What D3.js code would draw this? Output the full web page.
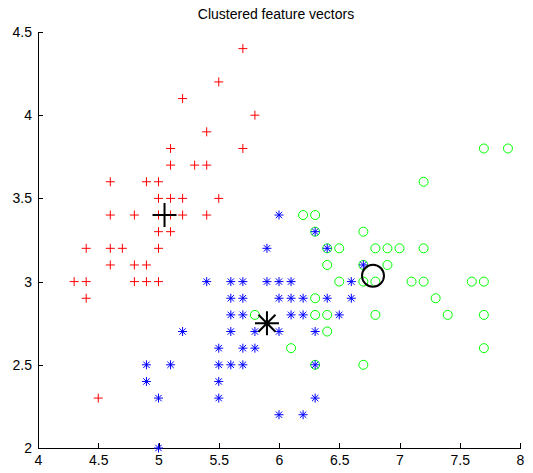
<!DOCTYPE html>
<html>
<head>
<meta charset="utf-8">
<script src="https://cdn.jsdelivr.net/npm/d3@7"></script>
<style>
  html, body { margin: 0; padding: 0; background: #fff; }
  svg { display: block; }
  text { font-family: "Liberation Sans", Arial, Helvetica, sans-serif; fill: #000; }
</style>
</head>
<body>
<svg id="chart" width="533" height="473"></svg>
<script>
// Sepal length / sepal width pairs, grouped by cluster.
const cluster1 = [
  [5.1,3.5],[4.9,3.0],[4.7,3.2],[4.6,3.1],[5.0,3.6],[5.4,3.9],[4.6,3.4],[5.0,3.4],
  [4.4,2.9],[4.9,3.1],[5.4,3.7],[4.8,3.4],[4.8,3.0],[4.3,3.0],[5.8,4.0],[5.7,4.4],
  [5.7,3.8],[5.1,3.8],[5.4,3.4],[5.1,3.7],[4.6,3.6],[5.1,3.3],[5.0,3.0],[5.2,3.5],
  [5.2,3.4],[4.8,3.1],[5.2,4.1],[5.5,4.2],[5.0,3.2],[5.5,3.5],[4.9,3.6],[4.4,3.0],
  [5.1,3.4],[5.0,3.5],[4.5,2.3],[4.4,3.2],[4.6,3.2],[5.3,3.7],[5.0,3.3]
];
const cluster2 = [
  [5.4,3.0],[5.6,3.0],[5.7,3.0],[5.9,3.0],[6.0,3.0],[6.1,3.0],[6.6,3.0],
  [5.6,2.9],[5.7,2.9],[6.0,2.9],[6.1,2.9],[6.2,2.9],[6.4,2.9],[6.6,2.9],
  [5.6,2.8],[5.7,2.8],[6.1,2.8],[6.2,2.8],[6.5,2.8],
  [5.2,2.7],[5.6,2.7],[5.8,2.7],[6.0,2.7],[6.3,2.7],
  [5.5,2.6],[5.7,2.6],[5.8,2.6],
  [4.9,2.5],[5.1,2.5],[5.5,2.5],[5.6,2.5],[5.7,2.5],[6.3,2.5],
  [4.9,2.4],[5.5,2.4],
  [5.0,2.3],[5.5,2.3],[6.3,2.3],
  [6.0,2.2],[6.2,2.2],
  [5.0,2.0],
  [5.9,3.2],[6.0,3.4],[6.3,3.3],[6.4,3.2],[6.7,3.1]
];
const cluster3 = [
  [5.8,2.8],[6.1,2.6],[6.3,2.9],[6.3,2.8],[6.4,2.8],[6.8,2.8],[6.4,2.7],[6.3,2.5],
  [6.7,2.5],[6.2,3.4],[6.3,3.4],[6.3,3.3],[6.7,3.3],[6.4,3.2],[6.5,3.2],[6.8,3.2],
  [6.9,3.2],[7.0,3.2],[7.2,3.2],[6.4,3.1],[6.7,3.1],[6.9,3.1],[6.5,3.0],[6.7,3.0],
  [6.8,3.0],[7.1,3.0],[7.2,3.0],[7.6,3.0],[7.7,3.0],[7.3,2.9],[7.4,2.8],[7.7,2.8],
  [7.7,2.6],[7.7,3.8],[7.9,3.8],[7.2,3.6]
];
// Cluster centres in the same two coordinates.
const centroid1 = [5.05, 3.40];
const centroid2 = [5.90, 2.75];
const centroid3 = [6.78, 3.035];

const xTicks = [4, 4.5, 5, 5.5, 6, 6.5, 7, 7.5, 8];
const yTicks = [2, 2.5, 3, 3.5, 4, 4.5];
const title = "Clustered feature vectors";

const svg = d3.select("#chart");
const plotLeft = 38, plotRight = 520, plotTop = 32, plotBottom = 448;

const x = d3.scaleLinear().domain([4, 8]).range([plotLeft, plotRight]);
const y = d3.scaleLinear().domain([2, 4.5]).range([plotBottom, plotTop]);

// Axes: left and bottom only, ticks pointing into the plot.
const axisFont = "14px";
const gx = svg.append("g")
  .attr("transform", `translate(0,${plotBottom})`)
  .call(d3.axisBottom(x).tickValues(xTicks).tickFormat(d3.format(""))
    .tickSizeInner(-5).tickSizeOuter(0).tickPadding(7));
const gy = svg.append("g")
  .attr("transform", `translate(${plotLeft},0)`)
  .call(d3.axisLeft(y).tickValues(yTicks).tickFormat(d3.format(""))
    .tickSizeInner(-5).tickSizeOuter(0).tickPadding(6));
[gx, gy].forEach(g => {
  g.selectAll("path.domain").attr("stroke", "#000").attr("stroke-width", 1).attr("shape-rendering", "crispEdges");
  g.selectAll(".tick line").attr("stroke", "#000").attr("stroke-width", 1).attr("shape-rendering", "crispEdges");
  g.selectAll(".tick text").attr("font-size", axisFont).attr("fill", "#000")
    .attr("font-family", "'Liberation Sans', Arial, sans-serif");
});

svg.append("text")
  .attr("x", 276).attr("y", 19)
  .attr("text-anchor", "middle")
  .attr("font-size", "14px")
  .text(title);

// Marker path builders.
function plusPath(h) {
  return `M${-h},0H${h}M0,${-h}V${h}`;
}
function starPath(h, d) {
  return `M${-h},0H${h}M0,${-h}V${h}M${-d},${-d}L${d},${d}M${-d},${d}L${d},${-d}`;
}

const plot = svg.append("g");

plot.selectAll("path.c1").data(cluster1).join("path")
  .attr("class", "c1")
  .attr("transform", d => `translate(${x(d[0])},${y(d[1])})`)
  .attr("d", plusPath(4.5))
  .attr("fill", "none").attr("stroke", "#ff0000").attr("stroke-width", 1);

plot.selectAll("circle.c3").data(cluster3).join("circle")
  .attr("class", "c3")
  .attr("cx", d => x(d[0])).attr("cy", d => y(d[1]))
  .attr("r", 4.5)
  .attr("fill", "none").attr("stroke", "#00ff00").attr("stroke-width", 1);

plot.selectAll("path.c2").data(cluster2).join("path")
  .attr("class", "c2")
  .attr("transform", d => `translate(${x(d[0])},${y(d[1])})`)
  .attr("d", starPath(4.5, 3.2))
  .attr("fill", "none").attr("stroke", "#0000ff").attr("stroke-width", 1);

// Cluster centres in black, larger markers.
plot.append("path")
  .attr("transform", `translate(${x(centroid1[0])},${y(centroid1[1])})`)
  .attr("d", plusPath(12))
  .attr("fill", "none").attr("stroke", "#000").attr("stroke-width", 2);

plot.append("path")
  .attr("transform", `translate(${x(centroid2[0])},${y(centroid2[1])})`)
  .attr("d", starPath(12, 8.5))
  .attr("fill", "none").attr("stroke", "#000").attr("stroke-width", 2);

plot.append("circle")
  .attr("cx", x(centroid3[0])).attr("cy", y(centroid3[1]))
  .attr("r", 11)
  .attr("fill", "none").attr("stroke", "#000").attr("stroke-width", 2);
</script>
</body>
</html>
